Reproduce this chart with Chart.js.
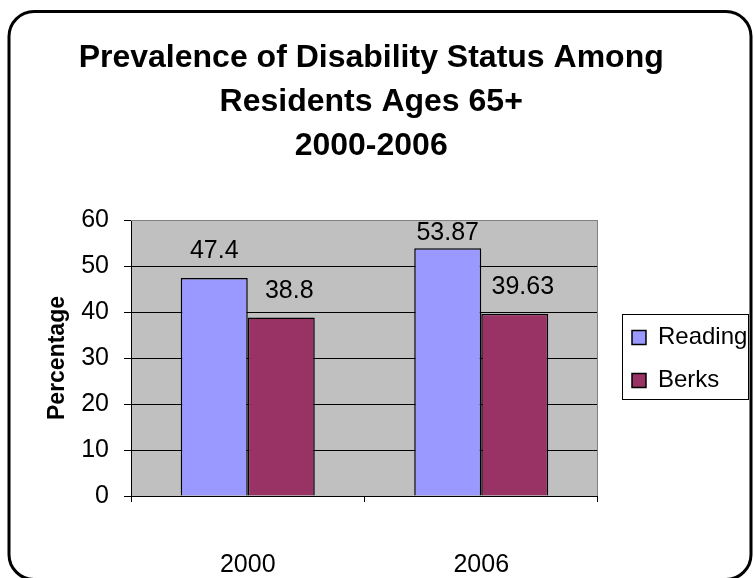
<!DOCTYPE html>
<html><head><meta charset="utf-8">
<script src="https://cdn.jsdelivr.net/npm/chart.js@4.4.0/dist/chart.umd.min.js"></script>
<style>html,body{margin:0;padding:0;background:#fff;}#wrap{width:754px;height:578px;}</style>
</head><body><div id="wrap"><canvas id="c" width="754" height="578"></canvas></div>
<script>
const titleLines = ['Prevalence of Disability Status Among', 'Residents Ages 65+', '2000-2006'];
const categories = ['2000', '2006'];
const seriesNames = ['Reading', 'Berks'];
const readingValues = [47.4, 53.87];
const berksValues = [38.8, 39.63];
const yMin = 0, yMax = 60, yStep = 10;
const yAxisTitle = 'Percentage';

const FONT = "'Liberation Sans', Arial, sans-serif";
Chart.defaults.font.family = FONT;
Chart.defaults.color = '#000';

const framePlugin = {
  id: 'frame',
  beforeDraw(chart) {
    const {ctx, chartArea: a} = chart;
    ctx.save();
    ctx.fillStyle = '#fff';
    ctx.fillRect(0, 0, chart.width, chart.height);
    ctx.fillStyle = '#C0C0C0';
    ctx.fillRect(a.left, a.top, a.right - a.left, a.bottom - a.top);
    ctx.restore();
  },
  afterDraw(chart) {
    const {ctx, chartArea: a} = chart;
    ctx.save();
    ctx.strokeStyle = '#808080';
    ctx.lineWidth = 1;
    ctx.beginPath();
    ctx.moveTo(a.left, a.top + 0.5);
    ctx.lineTo(a.right - 0.5, a.top + 0.5);
    ctx.lineTo(a.right - 0.5, a.bottom);
    ctx.stroke();
    const hb = chart.legend.legendHitBoxes;
    if (hb && hb.length) {
      let l = Infinity, r = -Infinity, t = Infinity, b = -Infinity;
      hb.forEach(h => { l = Math.min(l, h.left); r = Math.max(r, h.left + h.width); t = Math.min(t, h.top); b = Math.max(b, h.top + h.height); });
      ctx.strokeStyle = '#000';
      ctx.lineWidth = 1;
      ctx.strokeRect(Math.round(l - 10) + 0.5, Math.round(t - 12) + 0.5, Math.round(r - l + 11), Math.round(b - t + 18));
    }
    ctx.strokeStyle = '#000';
    ctx.lineWidth = 3;
    ctx.beginPath();
    ctx.roundRect(9, 11.5, 742, 568, 25);
    ctx.stroke();
    ctx.restore();
  }
};

const valueLabelPlugin = {
  id: 'valueLabels',
  afterDatasetsDraw(chart) {
    const {ctx, chartArea: a} = chart;
    ctx.save();
    ctx.font = '25px ' + FONT;
    ctx.fillStyle = '#000';
    ctx.textAlign = 'center';
    ctx.textBaseline = 'alphabetic';
    chart.data.datasets.forEach((ds, di) => {
      const meta = chart.getDatasetMeta(di);
      meta.data.forEach((el, i) => {
        const y = Math.max(el.y - 20, a.top + 20);
        ctx.fillText(String(ds.data[i]), el.x + (ds.labelShift || 0), y);
      });
    });
    ctx.restore();
  }
};

const legendShiftPlugin = {
  id: 'legendShift',
  afterLayout(chart) {
    const lg = chart.legend;
    lg.left += 15; lg.right += 15;
    lg.top += 1; lg.bottom += 1;
  }
};

new Chart(document.getElementById('c'), {
  type: 'bar',
  data: {
    labels: categories,
    datasets: [
      { label: seriesNames[0], data: readingValues, backgroundColor: '#9999FF', borderColor: '#000', borderWidth: 1.5, labelShift: 0 },
      { label: seriesNames[1], data: berksValues, backgroundColor: '#993366', borderColor: '#000', borderWidth: 1.5, labelShift: 8 }
    ]
  },
  options: {
    responsive: false,
    animation: false,
    devicePixelRatio: 1,
    layout: { padding: { left: 0, right: 11.6, top: 0, bottom: 0 } },
    datasets: { bar: { categoryPercentage: 0.574, barPercentage: 1 } },
    plugins: {
      title: {
        display: true,
        text: titleLines,
        color: '#000',
        font: { size: 32, weight: 'bold', lineHeight: 1.375 },
        padding: { top: 36, bottom: 52 }
      },
      legend: {
        position: 'right',
        fullSize: false,
        align: 'center',
        labels: { boxWidth: 14, boxHeight: 14, font: { size: 24 }, color: '#000', padding: 19 }
      },
      tooltip: { enabled: false }
    },
    scales: {
      x: {
        ticks: { font: { size: 25 }, color: '#000', padding: 48 },
        grid: { drawOnChartArea: false, offset: true, tickLength: 6, color: '#000' },
        border: { color: '#000', width: 1 },
        afterFit(s) { s.height = 82; }
      },
      y: {
        min: yMin, max: yMax,
        ticks: { stepSize: yStep, font: { size: 25 }, color: '#000', padding: 15 },
        grid: { color: c => (c.tick && c.tick.value === yMax) ? '#808080' : '#000', tickColor: '#000', lineWidth: 1, tickLength: 7 },
        border: { color: '#000', width: 1 },
        title: { display: true, text: yAxisTitle, color: '#000', font: { size: 23, weight: 'bold' }, padding: { top: 44, bottom: 0 } },
        afterFit(s) { s.width = 131; }
      }
    }
  },
  plugins: [framePlugin, valueLabelPlugin, legendShiftPlugin]
});
</script>
</body></html>
